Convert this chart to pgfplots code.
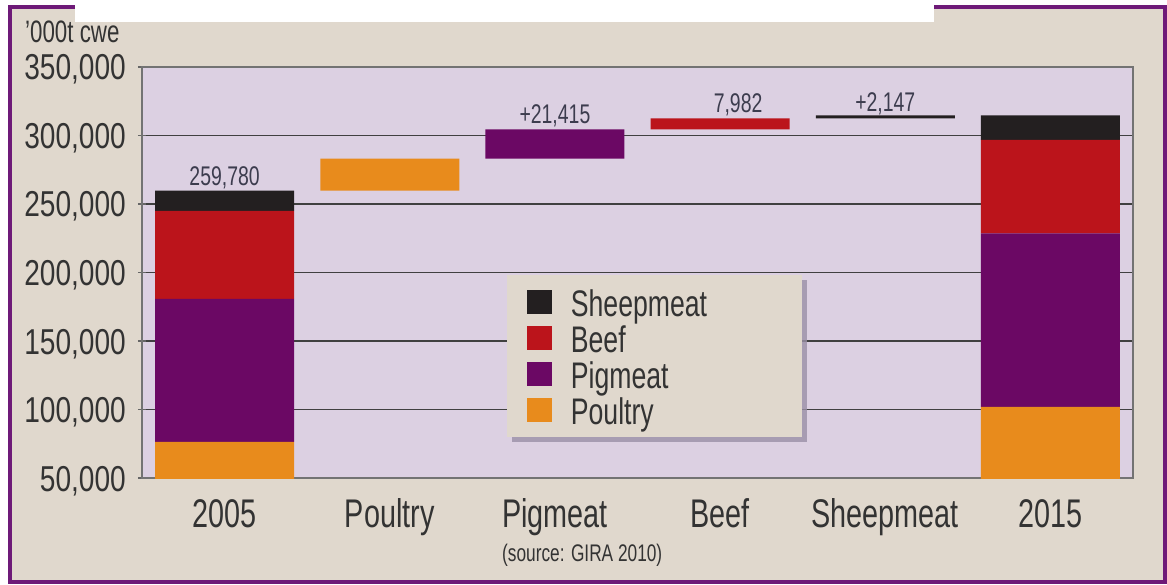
\documentclass[border=0pt]{standalone}
\usepackage{pgfplots}
\pgfplotsset{compat=1.18}
\usepackage{fontspec}
\setmainfont{Liberation Sans}[FakeStretch=0.72]
\newfontfamily\tickfont{Liberation Sans}[FakeStretch=0.78]
\definecolor{bgbeige}{HTML}{E0D8CD}
\definecolor{plotbg}{HTML}{DCD0E2}
\definecolor{framec}{HTML}{6E1A78}
\definecolor{sheep}{HTML}{231F20}
\definecolor{beef}{HTML}{BB141B}
\definecolor{pig}{HTML}{6B0864}
\definecolor{poultry}{HTML}{E88B1C}
\definecolor{txt}{HTML}{333333}
\definecolor{vlab}{HTML}{3C3C4E}
\definecolor{shadowc}{HTML}{9A90A6}
\pgfplotsset{sq legend/.style={legend image code/.code={\fill[##1] (0pt,-12pt) rectangle (25pt,12pt);}}}
\begin{document}
\begin{tikzpicture}[x=1pt,y=1pt]
\useasboundingbox (0,0) rectangle (1167,-585);
\fill[white] (0,0) rectangle (1167,-585);
\fill[bgbeige] (10,-7) rectangle (1165,-582);
\draw[framec, line width=3.5pt] (10,-7) rectangle (1165,-582);
\fill[white] (75,1) rectangle (934,-22);
\node[anchor=base west, font=\fontsize{31}{31}\selectfont, text=txt, inner sep=0pt] at (25,-43) {'000t cwe};
\node[anchor=base west, font=\fontsize{24}{24}\selectfont, text=txt, inner sep=0pt] at (502,-561) {(source: GIRA 2010)};
\begin{axis}[
  at={(142pt,-478pt)}, anchor=south west,
  width=991pt, height=411pt, scale only axis,
  ybar stacked, bar width=139pt,
  xmin=-0.5, xmax=5.5, ymin=50000, ymax=350000,
  xtick={0,1,2,3,4,5},
  xticklabels={2005,Poultry,Pigmeat,Beef,Sheepmeat,2015},
  ytick={50000,100000,150000,200000,250000,300000,350000},
  scaled y ticks=false,
  /pgf/number format/fixed,
  /pgf/number format/precision=0,
  /pgf/number format/1000 sep={,},
  /pgf/number format/assume math mode=true,
  yticklabel style={font=\tickfont\fontsize{36}{36}\selectfont, text=txt, anchor=base east, inner sep=0pt, xshift=-12pt, yshift=-13pt},
  xticklabel style={font=\fontsize{40}{40}\selectfont, text=txt, anchor=base, inner sep=0pt, yshift=-45pt},
  axis background/.style={fill=plotbg},
  ymajorgrids, grid style={draw=black!75, line width=1.5pt},
  axis line style={draw=black!55, line width=1.5pt},
  xtick style={draw=none},
  ytick style={draw=black!60, line width=1.5pt},
  major tick length=8pt, tick align=center,
  ytick pos=left,
  legend cell align=left,
  reverse legend,
  legend style={at={(0.368,0.494)}, anchor=north west, fill=bgbeige, draw=none,
    inner xsep=20pt, inner ysep=11pt, row sep=4pt,
    font=\fontsize{37}{37}\selectfont, text=txt,
    nodes={inner sep=0pt, text height=30pt, text depth=2pt},
    /tikz/every odd column/.append style={column sep=19pt}},
]
\addplot[fill=none, draw=none, forget plot] coordinates {(0,0) (1,259780) (2,283100) (3,304515) (4,312497) (5,0)};
\addplot[fill=poultry, draw=none, sq legend] coordinates {(0,76300) (1,23320) (2,0) (3,0) (4,0) (5,102000)};
\addlegendentry{Poultry}
\addplot[fill=pig, draw=none, sq legend] coordinates {(0,104400) (1,0) (2,21415) (3,0) (4,0) (5,126500)};
\addlegendentry{Pigmeat}
\addplot[fill=beef, draw=none, sq legend] coordinates {(0,64200) (1,0) (2,0) (3,7982) (4,0) (5,68300)};
\addlegendentry{Beef}
\addplot[fill=sheep, draw=none, sq legend] coordinates {(0,14880) (1,0) (2,0) (3,0) (4,2147) (5,17844)};
\addlegendentry{\makebox[211pt][l]{Sheepmeat}}
\fill[shadowc, opacity=0.8] ([xshift=5pt,yshift=-5pt]rel axis cs:0.368,0.494) rectangle ([xshift=300pt,yshift=-167pt]rel axis cs:0.368,0.494);
\node[anchor=base, font=\fontsize{27}{27}\selectfont, text=vlab, inner sep=0pt, yshift=5pt] at (axis cs:0,259780) {259,780};
\node[anchor=base, font=\fontsize{27}{27}\selectfont, text=vlab, inner sep=0pt, yshift=6pt] at (axis cs:2,304515) {+21,415};
\node[anchor=base, font=\fontsize{27}{27}\selectfont, text=vlab, inner sep=0pt, yshift=6pt, xshift=18pt] at (axis cs:3,312497) {7,982};
\node[anchor=base, font=\fontsize{27}{27}\selectfont, text=vlab, inner sep=0pt, yshift=3.5pt] at (axis cs:4,314644) {+2,147};
\end{axis}
\end{tikzpicture}
\end{document}
